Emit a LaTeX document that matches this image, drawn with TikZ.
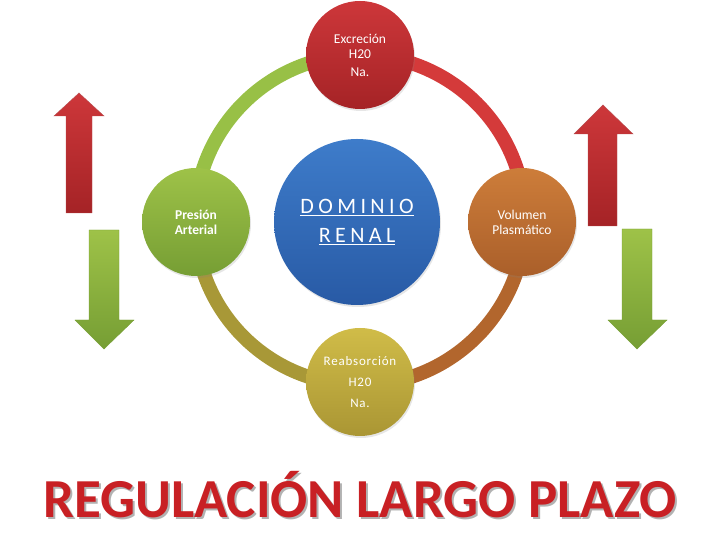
\documentclass[tikz,border=0pt]{standalone}
\usepackage{fontspec}
\setmainfont{Carlito}
\newfontfamily\espaciada[LetterSpace=20]{Carlito}
\newfontfamily\poco[LetterSpace=6]{Carlito}
\usetikzlibrary{shadows}
\definecolor{rojo-a}{RGB}{205,55,58}
\definecolor{rojo-b}{RGB}{165,35,38}
\definecolor{verde-a}{RGB}{158,194,72}
\definecolor{verde-b}{RGB}{118,158,52}
\definecolor{azul-a}{RGB}{62,124,202}
\definecolor{azul-b}{RGB}{40,90,165}
\definecolor{naranja-a}{RGB}{205,125,58}
\definecolor{naranja-b}{RGB}{170,95,42}
\definecolor{oliva-a}{RGB}{208,188,72}
\definecolor{oliva-b}{RGB}{170,150,52}
\definecolor{anillo-verde}{RGB}{152,192,70}
\definecolor{anillo-rojo}{RGB}{212,58,58}
\definecolor{anillo-naranja}{RGB}{178,102,45}
\definecolor{anillo-oliva}{RGB}{168,152,55}
\definecolor{titulo-rojo}{RGB}{200,32,36}

\begin{document}
\begin{tikzpicture}[x=1pt, y=1pt,
  circulo/.style={circle, minimum size=108pt, inner sep=0pt, text=white, align=center,
    font=\fontsize{13.5}{15}\selectfont,
    drop shadow={opacity=.2, shadow xshift=1pt, shadow yshift=-2pt}},
  anillo/.style={line width=14pt},
  flecharoja/.style={top color=rojo-a, bottom color=rojo-b, draw=rojo-b!80, line width=.4pt},
  flechaverde/.style={top color=verde-a, bottom color=verde-b, draw=verde-b, line width=.4pt}]
\useasboundingbox (0,0) rectangle (720,540);

% anillo
\coordinate (c) at (360,320);
\draw[anillo, anillo-verde] (195,320) arc[start angle=180, end angle=90, radius=165];
\draw[anillo, anillo-rojo] (360,485) arc[start angle=90, end angle=0, radius=165];
\draw[anillo, anillo-naranja] (525,320) arc[start angle=0, end angle=-90, radius=165];
\draw[anillo, anillo-oliva] (360,155) arc[start angle=-90, end angle=-180, radius=165];

% circulos
\node[circulo, top color=rojo-a, bottom color=rojo-b] (excrecion) at (360,485)
  {Excreción\\H20\\[3pt]Na.};
\node[circulo, top color=verde-a, bottom color=verde-b] (presion) at (196,318)
  {\bfseries Presión\\\bfseries Arterial};
\node[circulo, top color=naranja-a, bottom color=naranja-b] (volumen) at (522,318)
  {Volumen\\Plasmático};
\node[circulo, top color=oliva-a, bottom color=oliva-b, font=\poco\fontsize{13}{21}\selectfont] (reabsorcion) at (360,158)
  {Reabsorción\\H20\\Na.};
\node[circulo, minimum size=166pt, top color=azul-a, bottom color=azul-b,
  font=\espaciada\fontsize{22}{29}\selectfont] (renal) at (357,318)
  {\underline{DOMINIO}\\\underline{RENAL}};

% flechas
\draw[flecharoja] (66,327) -- (66,424) -- (54,424) -- (79,447) -- (104,424) -- (92,424) -- (92,327) -- cycle;
\draw[flechaverde] (89,310) -- (89,220) -- (75,220) -- (104,191) -- (134,220) -- (119,220) -- (119,310) -- cycle;
\draw[flecharoja] (588,314) -- (588,406) -- (574,406) -- (603,435) -- (633,406) -- (617,406) -- (617,314) -- cycle;
\draw[flechaverde] (622,311) -- (622,220) -- (608,220) -- (637,191) -- (667,220) -- (652,220) -- (652,311) -- cycle;

% titulo
\node[anchor=base, text=black!30, font=\bfseries\fontsize{55}{60}\selectfont] (sombra) at (362,20) {REGULACIÓN LARGO PLAZO};
\node[anchor=base, text=titulo-rojo, font=\bfseries\fontsize{55}{60}\selectfont] (titulo) at (360,22) {REGULACIÓN LARGO PLAZO};
\end{tikzpicture}
\end{document}
